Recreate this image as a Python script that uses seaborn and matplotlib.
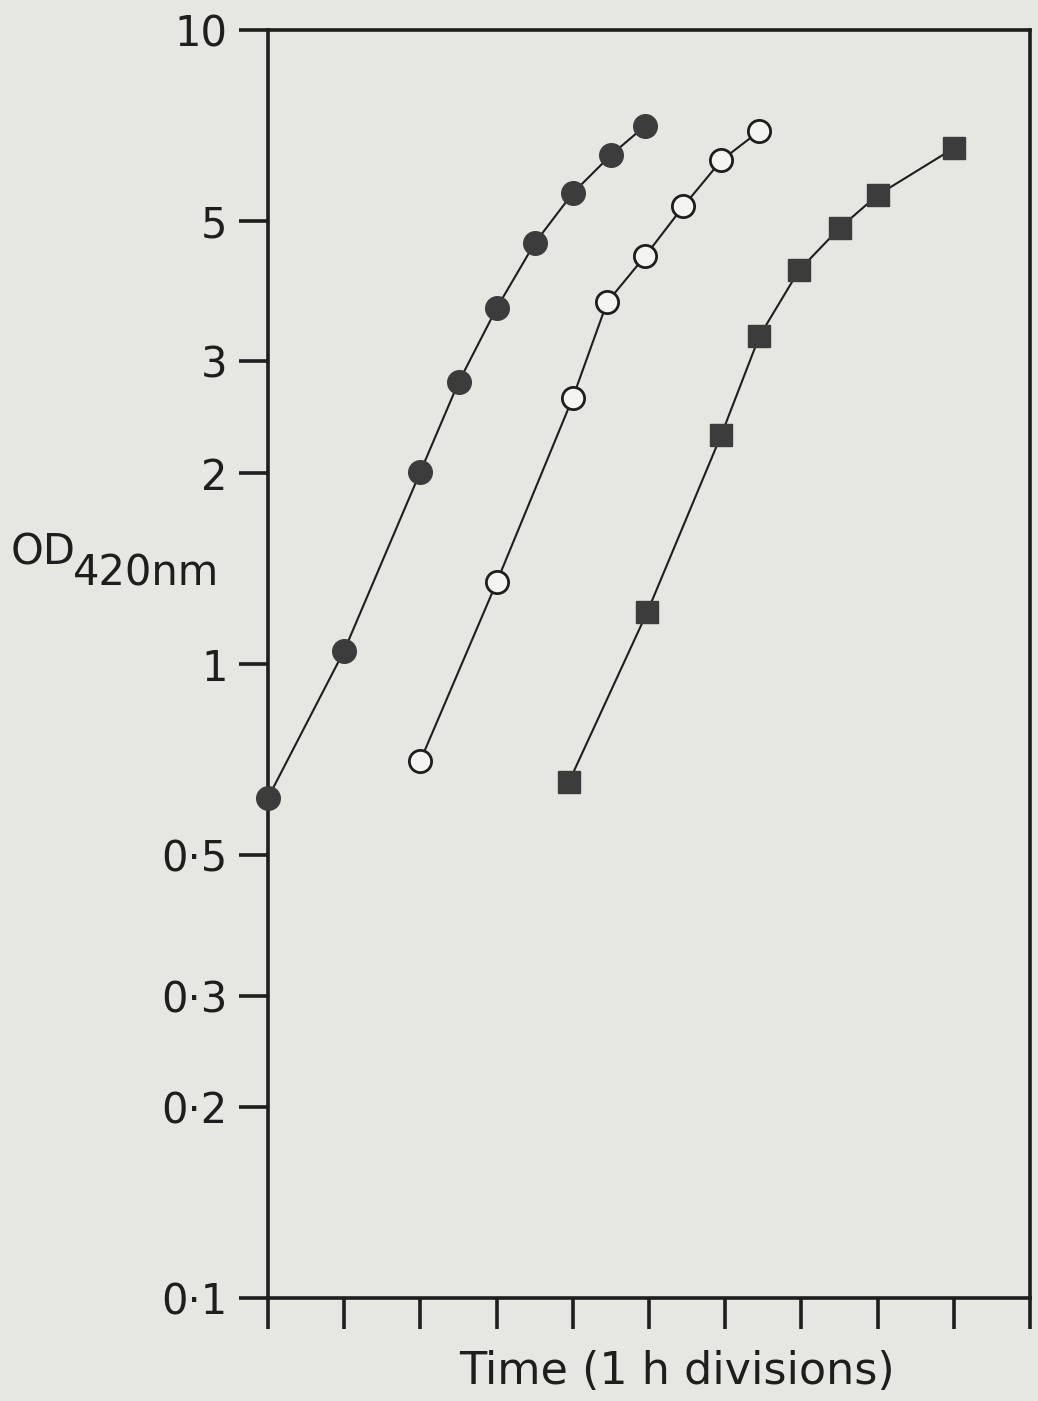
import numpy as np
import pandas as pd
import matplotlib
matplotlib.use('Agg')
import matplotlib.pyplot as plt
import seaborn as sns
from matplotlib.ticker import NullLocator, FixedLocator, FixedFormatter

# data (time in 1 h divisions, OD at 420 nm)
time_a = [0, 1, 2, 2.5, 3, 3.5, 4, 4.5, 4.95]
od_a = [0.615, 1.05, 2.01, 2.78, 3.64, 4.61, 5.53, 6.35, 7.06]

time_b = [2, 3, 4, 4.45, 4.95, 5.45, 5.95, 6.45]
od_b = [0.704, 1.345, 2.63, 3.72, 4.40, 5.27, 6.23, 6.93]

time_c = [3.95, 4.98, 5.95, 6.45, 6.97, 7.5, 8.0, 9.0]
od_c = [0.652, 1.21, 2.30, 3.29, 4.18, 4.87, 5.49, 6.51]

ytick_vals = [0.1, 0.2, 0.3, 0.5, 1, 2, 3, 5, 10]
ytick_labels = ['0\u00b71', '0\u00b72', '0\u00b73', '0\u00b75', '1', '2', '3', '5', '10']
xtick_vals = list(range(0, 11))

bg = '#e6e6e2'
ink = '#1e1e1e'
mark = '#3c3c3c'

sns.set_style('ticks')
plt.rcParams['font.family'] = ['DejaVu Sans']

fig = plt.figure(figsize=(10.38, 14.01), dpi=100, facecolor=bg)
ax = fig.add_axes([0.2582, 0.0735, 0.7341, 0.9051], facecolor=bg)

sns.lineplot(x=time_a, y=od_a, ax=ax, color=ink, lw=1.5, marker='o', markersize=17,
             mfc=mark, mec=mark, mew=1, clip_on=False, zorder=3)
sns.lineplot(x=time_b, y=od_b, ax=ax, color=ink, lw=1.5, marker='o', markersize=16,
             mfc='#f4f4f2', mec=ink, mew=2, clip_on=False, zorder=3)
sns.lineplot(x=time_c, y=od_c, ax=ax, color=ink, lw=1.5, marker='s', markersize=16,
             mfc=mark, mec=mark, mew=1, clip_on=False, zorder=3)

ax.set_yscale('log')
ax.set_ylim(0.1, 10)
ax.set_xlim(0, 10)
ax.yaxis.set_major_locator(FixedLocator(ytick_vals))
ax.yaxis.set_major_formatter(FixedFormatter(ytick_labels))
ax.yaxis.set_minor_locator(NullLocator())
ax.set_xticks(xtick_vals)
ax.set_xticklabels([])

for s in ax.spines.values():
    s.set_linewidth(2.6)
    s.set_color(ink)

ax.tick_params(axis='y', direction='out', length=21, width=2.6, color=ink,
               labelsize=30, pad=8, labelcolor=ink)
ax.tick_params(axis='x', direction='out', length=22, width=2.6, color=ink)

ax.set_xlabel('')
ax.set_ylabel('')
fig.text(0.652, 0.021, 'Time (1 h divisions)', fontsize=32, color=ink,
         ha='center', va='center')
fig.text(0.010, 0.6053, 'OD', fontsize=30, color=ink, ha='left', va='center')
fig.text(0.070, 0.591, '420nm', fontsize=30, color=ink, ha='left', va='center')

fig.savefig('out.png', dpi=100, facecolor=bg)
